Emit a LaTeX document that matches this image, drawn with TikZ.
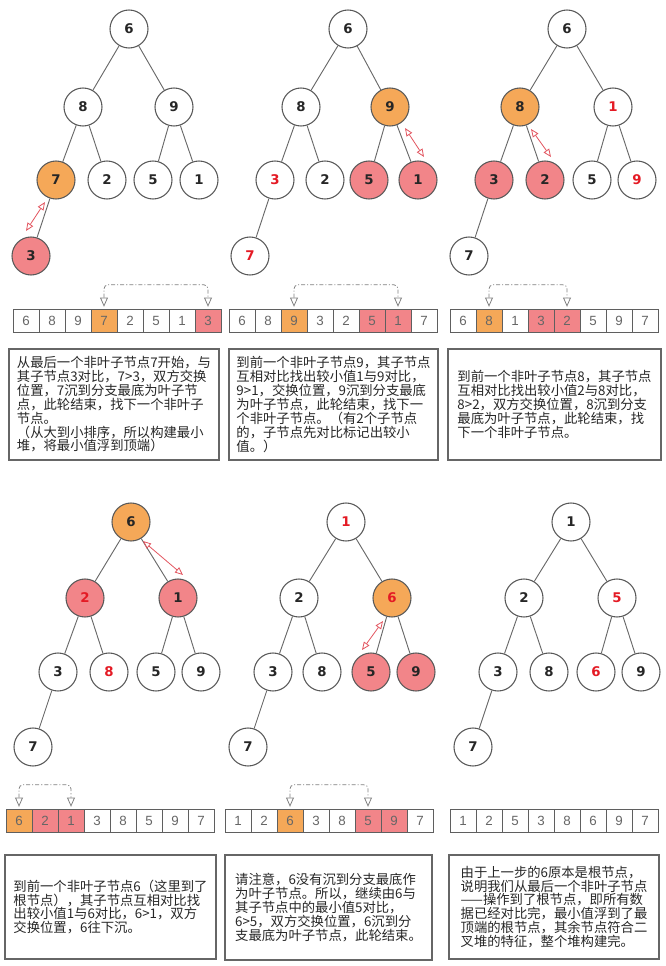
\documentclass[tikz,border=0pt]{standalone}
\usepackage{fontspec}
\setmainfont{Liberation Sans}
\newfontfamily\cjkfont{Noto Sans CJK SC}
\newfontfamily\numfont{DejaVu Sans}
\usetikzlibrary{arrows.meta}

\definecolor{pivotfill}{RGB}{245,168,88}
\definecolor{kidfill}{RGB}{242,133,137}
\definecolor{movedred}{RGB}{228,26,36}
\definecolor{swapred}{RGB}{226,86,96}
\definecolor{edgegray}{RGB}{105,105,105}
\definecolor{cellgray}{RGB}{95,95,95}

\tikzset{
  heapnode/.style={circle, draw=edgegray!85!black, line width=0.8pt, fill=white,
    minimum size=28.5pt, inner sep=0pt, text=black!85,
    font=\numfont\bfseries\fontsize{10pt}{12pt}\selectfont},
  orangenode/.style={fill=pivotfill},
  pinknode/.style={fill=kidfill},
  redtext/.style={text=movedred},
  heapedge/.style={draw=edgegray, line width=0.7pt},
  swaparrow/.style={draw=swapred, line width=0.6pt,
    {Triangle[open, length=6pt, width=5pt]}-{Triangle[open, length=6pt, width=5pt]}},
  cellbox/.style={rectangle, draw=cellgray, line width=0.75pt, fill=white,
    minimum width=19.5pt, minimum height=17.5pt, inner sep=0pt, text=black!60,
    font=\fontsize{10pt}{12pt}\selectfont},
  linkline/.style={draw=gray, line width=0.6pt, rounded corners=3pt,
    dash pattern=on 3pt off 1.5pt on 0.8pt off 1.5pt,
    {Triangle[open, length=7pt, width=6pt]}-{Triangle[open, length=7pt, width=6pt]}},
  notebox/.style={rectangle, draw=black!60, line width=1pt, align=left, inner sep=0pt,
    text=black!85, font=\cjkfont\fontsize{10pt}{10.4pt}\selectfont}
}

\begin{document}
\begin{tikzpicture}[x=0.75pt, y=-0.75pt]
  \useasboundingbox (0,0) rectangle (665,966);

  % heap 1: start at last non-leaf 7
  \node[heapnode] (heap1_pt0) at (129,29) {6};
  \node[heapnode] (heap1_pt1) at (83,107) {8};
  \node[heapnode] (heap1_pt2) at (174,107) {9};
  \node[heapnode, orangenode] (heap1_pt3) at (56,180) {7};
  \node[heapnode] (heap1_pt4) at (107,180) {2};
  \node[heapnode] (heap1_pt5) at (153,180) {5};
  \node[heapnode] (heap1_pt6) at (199,180) {1};
  \node[heapnode, pinknode] (heap1_pt7) at (31,256) {3};
  \draw[heapedge] (heap1_pt1) -- (heap1_pt0) -- (heap1_pt2) (heap1_pt3) -- (heap1_pt1) -- (heap1_pt4)
    (heap1_pt5) -- (heap1_pt2) -- (heap1_pt6) (heap1_pt3) -- (heap1_pt7);
  \coordinate (swap1_a) at (45,202);
  \coordinate (swap1_b) at (26,231);
  \draw[swaparrow] (swap1_a) -- (swap1_b);

  % heap 2: non-leaf 9
  \node[heapnode] (heap2_pt0) at (348,29) {6};
  \node[heapnode] (heap2_pt1) at (301,107) {8};
  \node[heapnode, orangenode] (heap2_pt2) at (390,107) {9};
  \node[heapnode, redtext] (heap2_pt3) at (275,180) {3};
  \node[heapnode] (heap2_pt4) at (325,180) {2};
  \node[heapnode, pinknode] (heap2_pt5) at (369,180) {5};
  \node[heapnode, pinknode] (heap2_pt6) at (418,180) {1};
  \node[heapnode, redtext] (heap2_pt7) at (250,256) {7};
  \draw[heapedge] (heap2_pt1) -- (heap2_pt0) -- (heap2_pt2) (heap2_pt3) -- (heap2_pt1) -- (heap2_pt4)
    (heap2_pt5) -- (heap2_pt2) -- (heap2_pt6) (heap2_pt3) -- (heap2_pt7);
  \coordinate (swap2_a) at (405,128);
  \coordinate (swap2_b) at (424,157);
  \draw[swaparrow] (swap2_a) -- (swap2_b);

  % heap 3: non-leaf 8
  \node[heapnode] (heap3_pt0) at (567,29) {6};
  \node[heapnode, orangenode] (heap3_pt1) at (520,107) {8};
  \node[heapnode, redtext] (heap3_pt2) at (613,107) {1};
  \node[heapnode, pinknode] (heap3_pt3) at (494,180) {3};
  \node[heapnode, pinknode] (heap3_pt4) at (545,180) {2};
  \node[heapnode] (heap3_pt5) at (592,180) {5};
  \node[heapnode, redtext] (heap3_pt6) at (637,180) {9};
  \node[heapnode] (heap3_pt7) at (469,256) {7};
  \draw[heapedge] (heap3_pt1) -- (heap3_pt0) -- (heap3_pt2) (heap3_pt3) -- (heap3_pt1) -- (heap3_pt4)
    (heap3_pt5) -- (heap3_pt2) -- (heap3_pt6) (heap3_pt3) -- (heap3_pt7);
  \coordinate (swap3_a) at (531,129);
  \coordinate (swap3_b) at (551,157);
  \draw[swaparrow] (swap3_a) -- (swap3_b);

  % heap 4: root 6
  \node[heapnode, orangenode] (heap4_pt0) at (131,522) {6};
  \node[heapnode, pinknode, redtext] (heap4_pt1) at (85,598) {2};
  \node[heapnode, pinknode] (heap4_pt2) at (178,598) {1};
  \node[heapnode] (heap4_pt3) at (58,672) {3};
  \node[heapnode, redtext] (heap4_pt4) at (109,672) {8};
  \node[heapnode] (heap4_pt5) at (156,672) {5};
  \node[heapnode] (heap4_pt6) at (201,672) {9};
  \node[heapnode] (heap4_pt7) at (33,747) {7};
  \draw[heapedge] (heap4_pt1) -- (heap4_pt0) -- (heap4_pt2) (heap4_pt3) -- (heap4_pt1) -- (heap4_pt4)
    (heap4_pt5) -- (heap4_pt2) -- (heap4_pt6) (heap4_pt3) -- (heap4_pt7);
  \coordinate (swap4_a) at (143,541);
  \coordinate (swap4_b) at (183,575);
  \draw[swaparrow] (swap4_a) -- (swap4_b);

  % heap 5: 6 goes on down
  \node[heapnode, redtext] (heap5_pt0) at (346,522) {1};
  \node[heapnode] (heap5_pt1) at (299,598) {2};
  \node[heapnode, orangenode, redtext] (heap5_pt2) at (392,598) {6};
  \node[heapnode] (heap5_pt3) at (273,672) {3};
  \node[heapnode] (heap5_pt4) at (322,672) {8};
  \node[heapnode, pinknode] (heap5_pt5) at (371,672) {5};
  \node[heapnode, pinknode] (heap5_pt6) at (416,672) {9};
  \node[heapnode] (heap5_pt7) at (248,747) {7};
  \draw[heapedge] (heap5_pt1) -- (heap5_pt0) -- (heap5_pt2) (heap5_pt3) -- (heap5_pt1) -- (heap5_pt4)
    (heap5_pt5) -- (heap5_pt2) -- (heap5_pt6) (heap5_pt3) -- (heap5_pt7);
  \coordinate (swap5_a) at (383,621);
  \coordinate (swap5_b) at (362,650);
  \draw[swaparrow] (swap5_a) -- (swap5_b);

  % heap 6: finished min heap
  \node[heapnode] (heap6_pt0) at (571,522) {1};
  \node[heapnode] (heap6_pt1) at (524,598) {2};
  \node[heapnode, redtext] (heap6_pt2) at (617,598) {5};
  \node[heapnode] (heap6_pt3) at (498,672) {3};
  \node[heapnode] (heap6_pt4) at (549,672) {8};
  \node[heapnode, redtext] (heap6_pt5) at (596,672) {6};
  \node[heapnode] (heap6_pt6) at (641,672) {9};
  \node[heapnode] (heap6_pt7) at (473,747) {7};
  \draw[heapedge] (heap6_pt1) -- (heap6_pt0) -- (heap6_pt2) (heap6_pt3) -- (heap6_pt1) -- (heap6_pt4)
    (heap6_pt5) -- (heap6_pt2) -- (heap6_pt6) (heap6_pt3) -- (heap6_pt7);

  % array rows
  \node[cellbox] (arr1_pt0) at (26,321) {6};
  \node[cellbox] (arr1_pt1) at (52,321) {8};
  \node[cellbox] (arr1_pt2) at (78,321) {9};
  \node[cellbox, fill=pivotfill] (arr1_pt3) at (104,321) {7};
  \node[cellbox] (arr1_pt4) at (130,321) {2};
  \node[cellbox] (arr1_pt5) at (156,321) {5};
  \node[cellbox] (arr1_pt6) at (182,321) {1};
  \node[cellbox, fill=kidfill] (arr1_pt7) at (208,321) {3};
  \draw[linkline] ([yshift=1.5pt]arr1_pt3.north) -- ++(0,-22) -| ([yshift=1.5pt]arr1_pt7.north);

  \node[cellbox] (arr2_pt0) at (242,321) {6};
  \node[cellbox] (arr2_pt1) at (268,321) {8};
  \node[cellbox, fill=pivotfill] (arr2_pt2) at (294,321) {9};
  \node[cellbox] (arr2_pt3) at (320,321) {3};
  \node[cellbox] (arr2_pt4) at (346,321) {2};
  \node[cellbox, fill=kidfill] (arr2_pt5) at (372,321) {5};
  \node[cellbox, fill=kidfill] (arr2_pt6) at (398,321) {1};
  \node[cellbox] (arr2_pt7) at (424,321) {7};
  \draw[linkline] ([yshift=1.5pt]arr2_pt2.north) -- ++(0,-22) -| ([yshift=1.5pt]arr2_pt6.north);

  \node[cellbox] (arr3_pt0) at (463,321) {6};
  \node[cellbox, fill=pivotfill] (arr3_pt1) at (489,321) {8};
  \node[cellbox] (arr3_pt2) at (515,321) {1};
  \node[cellbox, fill=kidfill] (arr3_pt3) at (541,321) {3};
  \node[cellbox, fill=kidfill] (arr3_pt4) at (567,321) {2};
  \node[cellbox] (arr3_pt5) at (593,321) {5};
  \node[cellbox] (arr3_pt6) at (619,321) {9};
  \node[cellbox] (arr3_pt7) at (645,321) {7};
  \draw[linkline] ([yshift=1.5pt]arr3_pt1.north) -- ++(0,-22) -| ([yshift=1.5pt]arr3_pt4.north);

  \node[cellbox, fill=pivotfill] (arr4_pt0) at (19,821) {6};
  \node[cellbox, fill=kidfill] (arr4_pt1) at (45,821) {2};
  \node[cellbox, fill=kidfill] (arr4_pt2) at (71,821) {1};
  \node[cellbox] (arr4_pt3) at (97,821) {3};
  \node[cellbox] (arr4_pt4) at (123,821) {8};
  \node[cellbox] (arr4_pt5) at (149,821) {5};
  \node[cellbox] (arr4_pt6) at (175,821) {9};
  \node[cellbox] (arr4_pt7) at (201,821) {7};
  \draw[linkline] ([yshift=1.5pt]arr4_pt0.north) -- ++(0,-22) -| ([yshift=1.5pt]arr4_pt2.north);

  \node[cellbox] (arr5_pt0) at (238,821) {1};
  \node[cellbox] (arr5_pt1) at (264,821) {2};
  \node[cellbox, fill=pivotfill] (arr5_pt2) at (290,821) {6};
  \node[cellbox] (arr5_pt3) at (316,821) {3};
  \node[cellbox] (arr5_pt4) at (342,821) {8};
  \node[cellbox, fill=kidfill] (arr5_pt5) at (368,821) {5};
  \node[cellbox, fill=kidfill] (arr5_pt6) at (394,821) {9};
  \node[cellbox] (arr5_pt7) at (420,821) {7};
  \draw[linkline] ([yshift=1.5pt]arr5_pt2.north) -- ++(0,-22) -| ([yshift=1.5pt]arr5_pt5.north);

  \node[cellbox] (arr6_pt0) at (463,821) {1};
  \node[cellbox] (arr6_pt1) at (489,821) {2};
  \node[cellbox] (arr6_pt2) at (515,821) {5};
  \node[cellbox] (arr6_pt3) at (541,821) {3};
  \node[cellbox] (arr6_pt4) at (567,821) {8};
  \node[cellbox] (arr6_pt5) at (593,821) {6};
  \node[cellbox] (arr6_pt6) at (619,821) {9};
  \node[cellbox] (arr6_pt7) at (645,821) {7};

  % explanation boxes
  \node[notebox, minimum width=157.5pt, minimum height=83.25pt] (note1) at (114,404.5)
    {从最后一个非叶子节点7开始，与\\其子节点3对比，7>3，双方交换\\位置，7沉到分支最底为叶子节\\点，此轮结束，找下一个非叶子\\节点。\\（从大到小排序，所以构建最小\\堆，将最小值浮到顶端）};
  \node[notebox, minimum width=156.75pt, minimum height=83.25pt] (note2) at (333.5,404.5)
    {到前一个非叶子节点9，其子节点\\互相对比找出较小值1与9对比，\\9>1，交换位置，9沉到分支最底\\为叶子节点，此轮结束，找下一\\个非叶子节点。（有2个子节点\\的，子节点先对比标记出较小\\值。）};
  \node[notebox, minimum width=159.75pt, minimum height=83.25pt] (note3) at (554.5,404.5)
    {到前一个非叶子节点8，其子节点\\互相对比找出较小值2与8对比，\\8>2，双方交换位置，8沉到分支\\最底为叶子节点，此轮结束，找\\下一个非叶子节点。};
  \node[notebox, minimum width=158.25pt, minimum height=78pt] (note4) at (110.5,907)
    {到前一个非叶子节点6（这里到了\\根节点），其子节点互相对比找\\出较小值1与6对比，6>1，双方\\交换位置，6往下沉。};
  \node[notebox, minimum width=155.25pt, minimum height=78.75pt] (note5) at (328.5,907.5)
    {请注意，6没有沉到分支最底作\\为叶子节点。所以，继续由6与\\其子节点中的最小值5对比，\\6>5，双方交换位置，6沉到分\\支最底为叶子节点，此轮结束。};
  \node[notebox, minimum width=157.5pt, minimum height=78pt] (note6) at (554,907)
    {由于上一步的6原本是根节点，\\说明我们从最后一个非叶子节点\\——操作到了根节点，即所有数\\据已经对比完，最小值浮到了最\\顶端的根节点，其余节点符合二\\叉堆的特征，整个堆构建完。};
\end{tikzpicture}
\end{document}
